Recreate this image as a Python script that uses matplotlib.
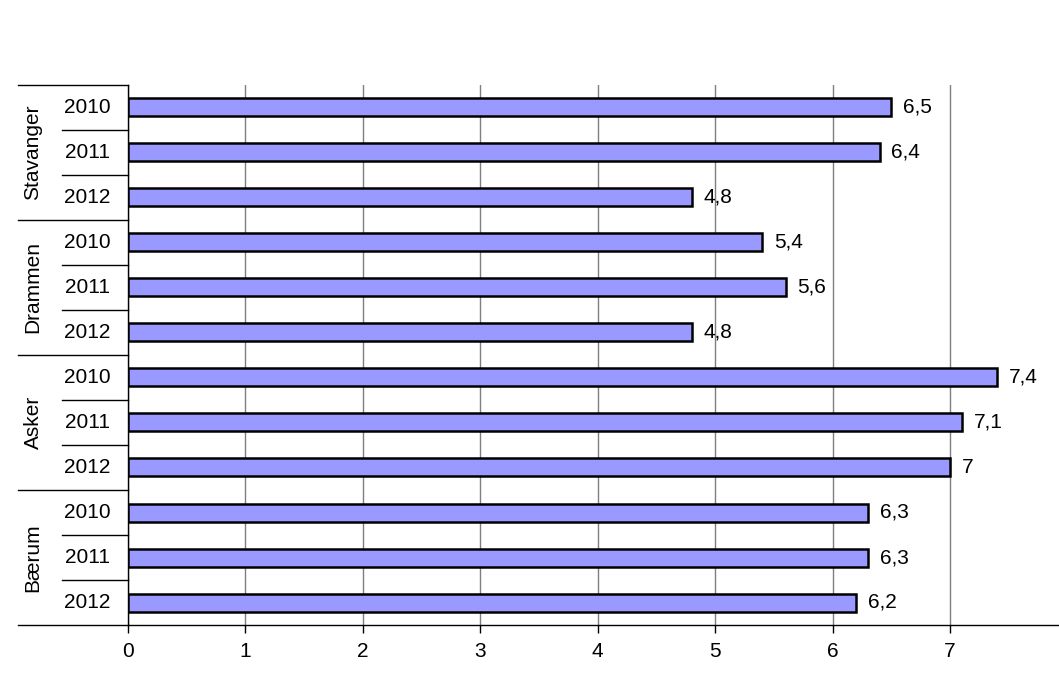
import matplotlib
matplotlib.use("Agg")
import matplotlib.pyplot as plt
from matplotlib.transforms import blended_transform_factory

plt.rcParams['font.family'] = ['Liberation Sans', 'DejaVu Sans']

groups = ["Stavanger", "Drammen", "Asker", "Bærum"]
years = ["2010", "2011", "2012"]
values = [
    [6.5, 6.4, 4.8],
    [5.4, 5.6, 4.8],
    [7.4, 7.1, 7.0],
    [6.3, 6.3, 6.2],
]
xticks = [0, 1, 2, 3, 4, 5, 6, 7]

W, H = 1059, 695
fig = plt.figure(figsize=(W / 100, H / 100), dpi=100)
left_px, right_px, top_px, bot_px = 128, 1059, 85, 625
ax = fig.add_axes([left_px / W, 1 - bot_px / H, (right_px - left_px) / W, (bot_px - top_px) / H])

n = len(groups) * len(years)
fs = 15

def fmt(v):
    s = ("%g" % v)
    return s.replace(".", ",")

row = 0
for gi, g in enumerate(groups):
    for yi, yr in enumerate(years):
        y = n - 1 - row
        v = values[gi][yi]
        ax.barh(y, v, height=0.4, color="#9999FF", edgecolor="black", linewidth=1.8, zorder=3)
        ax.text(v + 0.1, y, fmt(v), va="center", ha="left", fontsize=fs, zorder=4)
        row += 1

ax.set_ylim(-0.5, n - 0.5)
ax.set_xlim(0, (right_px - left_px) / ((950 - 128) / 7.0))
ax.set_xticks(xticks)
ax.set_xticklabels([str(t) for t in xticks], fontsize=fs)
ax.tick_params(axis="x", direction="out", length=6, width=1, pad=6)
ax.set_yticks([])
ax.grid(axis="x", color="#7f7f7f", linewidth=1, zorder=0)
for s in ["top", "right"]:
    ax.spines[s].set_visible(False)
ax.spines["left"].set_linewidth(1)
ax.spines["bottom"].set_linewidth(1)

axw = right_px - left_px
x_year_sep = (62 - left_px) / axw
x_group_sep = (18 - left_px) / axw
x_year_lab = (87 - left_px) / axw
x_group_lab = (33 - left_px) / axw

trans = blended_transform_factory(ax.transAxes, ax.transData)
for r in range(n + 1):
    yb = n - 0.5 - r
    if r % 3 == 0:
        ax.plot([x_group_sep, 0], [yb, yb], color="black", linewidth=1, transform=trans, clip_on=False)
    else:
        ax.plot([x_year_sep, 0], [yb, yb], color="black", linewidth=1, transform=trans, clip_on=False)

row = 0
for gi, g in enumerate(groups):
    for yi, yr in enumerate(years):
        y = n - 1 - row
        ax.text(x_year_lab, y, yr, transform=trans, ha="center", va="center", fontsize=fs)
        row += 1
    yc = n - 1 - (gi * 3 + 1)
    ax.text(x_group_lab, yc, g, transform=trans, ha="center", va="center", rotation=90, fontsize=fs)

fig.savefig("out.png", dpi=100)
